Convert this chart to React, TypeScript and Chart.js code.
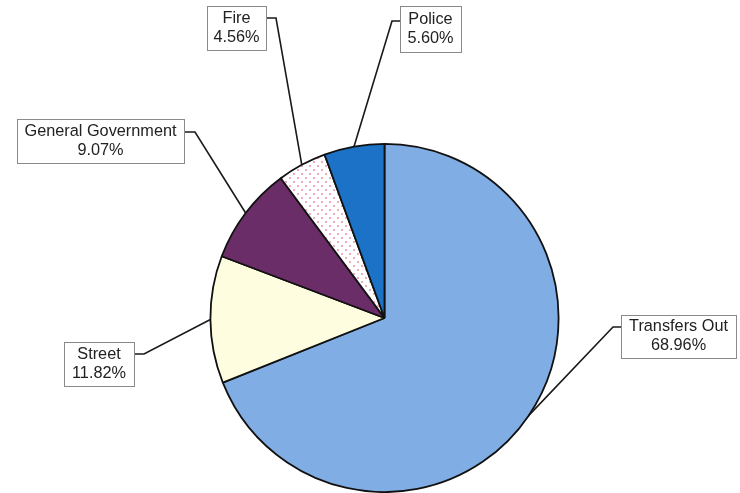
import React, { useEffect, useRef } from "react";
import { Chart, registerables } from "chart.js";

Chart.register(...registerables);

const categories = ["Transfers Out", "Street", "General Government", "Fire", "Police"];
const percentages = [68.96, 11.82, 9.07, 4.56, 5.6];
const percentLabels = ["68.96%", "11.82%", "9.07%", "4.56%", "5.60%"];

const baseColors = ["#80ADE3", "#FFFDE0", "#6A2D68", "FIRE_PATTERN", "#1C72C6"];

// label box layout (x, y, w, h), attach point on box, elbow point
const labelLayout = [
  { x: 621, y: 315, w: 115, h: 43, ax: 621, ay: 327, ex: 613, ey: 327 },
  { x: 64, y: 342, w: 70, h: 44, ax: 134, ay: 354, ex: 144, ey: 354 },
  { x: 17, y: 119, w: 167, h: 44, ax: 184, ay: 132, ex: 195, ey: 132 },
  { x: 207, y: 6, w: 59, h: 44, ax: 266, ay: 18, ex: 276, ey: 18 },
  { x: 400, y: 6, w: 61, h: 46, ax: 400, ay: 21, ex: 392, ey: 21 },
];

function makeDotPattern(ctx: CanvasRenderingContext2D): CanvasPattern | string {
  const c = document.createElement("canvas");
  c.width = 8;
  c.height = 8;
  const p = c.getContext("2d");
  if (!p) return "#ffffff";
  p.fillStyle = "#ffffff";
  p.fillRect(0, 0, 8, 8);
  p.fillStyle = "#EC8FA6";
  p.beginPath();
  p.arc(2, 2, 1, 0, Math.PI * 2);
  p.fill();
  p.beginPath();
  p.arc(6, 6, 1, 0, Math.PI * 2);
  p.fill();
  return ctx.createPattern(c, "repeat") || "#ffffff";
}

const labelPlugin = {
  id: "boxLabels",
  afterDraw(chart: any) {
    const ctx = chart.ctx as CanvasRenderingContext2D;
    const meta = chart.getDatasetMeta(0);
    ctx.save();
    meta.data.forEach((arc: any, i: number) => {
      const { x, y, startAngle, endAngle, outerRadius } = arc.getProps(
        ["x", "y", "startAngle", "endAngle", "outerRadius"],
        true
      );
      const mid = (startAngle + endAngle) / 2;
      const px = x + Math.cos(mid) * outerRadius;
      const py = y + Math.sin(mid) * outerRadius;
      const L = labelLayout[i];
      // leader line
      ctx.strokeStyle = "#1a1a1a";
      ctx.lineWidth = 1.6;
      ctx.beginPath();
      ctx.moveTo(px, py);
      ctx.lineTo(L.ex, L.ey);
      ctx.lineTo(L.ax, L.ay);
      ctx.stroke();
      // box
      ctx.fillStyle = "#ffffff";
      ctx.fillRect(L.x, L.y, L.w, L.h);
      ctx.strokeStyle = "#8a8a8a";
      ctx.lineWidth = 1;
      ctx.strokeRect(L.x + 0.5, L.y + 0.5, L.w, L.h);
      // text
      ctx.fillStyle = "#222222";
      ctx.font = "16.3px 'Liberation Sans', Arial, sans-serif";
      ctx.textAlign = "center";
      ctx.textBaseline = "middle";
      const cx = L.x + L.w / 2;
      const cy = L.y + L.h / 2;
      ctx.fillText(categories[i], cx, cy - 9.5);
      ctx.fillText(percentLabels[i], cx, cy + 9.5);
    });
    ctx.restore();
  },
};

export default function App() {
  const canvasRef = useRef<HTMLCanvasElement | null>(null);

  useEffect(() => {
    const canvas = canvasRef.current;
    if (!canvas) return;
    const ctx = canvas.getContext("2d");
    if (!ctx) return;
    const pattern = makeDotPattern(ctx);
    const colors = baseColors.map((c) => (c === "FIRE_PATTERN" ? pattern : c));
    const chart = new Chart(canvas, {
      type: "pie",
      data: {
        labels: categories,
        datasets: [
          {
            data: percentages,
            backgroundColor: colors as any,
            borderColor: "#111111",
            borderWidth: 1.8,
          },
        ],
      },
      options: {
        animation: false,
        responsive: false,
        maintainAspectRatio: false,
        layout: { padding: { left: 209, right: 180, top: 143, bottom: 0 } },
        plugins: {
          legend: { display: false },
          tooltip: { enabled: false },
          title: { display: false },
        },
      },
      plugins: [labelPlugin],
    });
    return () => chart.destroy();
  }, []);

  return (
    <div style={{ position: "absolute", left: 0, top: 0, width: 740, height: 493, background: "#fff" }}>
      <canvas ref={canvasRef} width={740} height={493} style={{ width: 740, height: 493, display: "block" }} />
    </div>
  );
}
